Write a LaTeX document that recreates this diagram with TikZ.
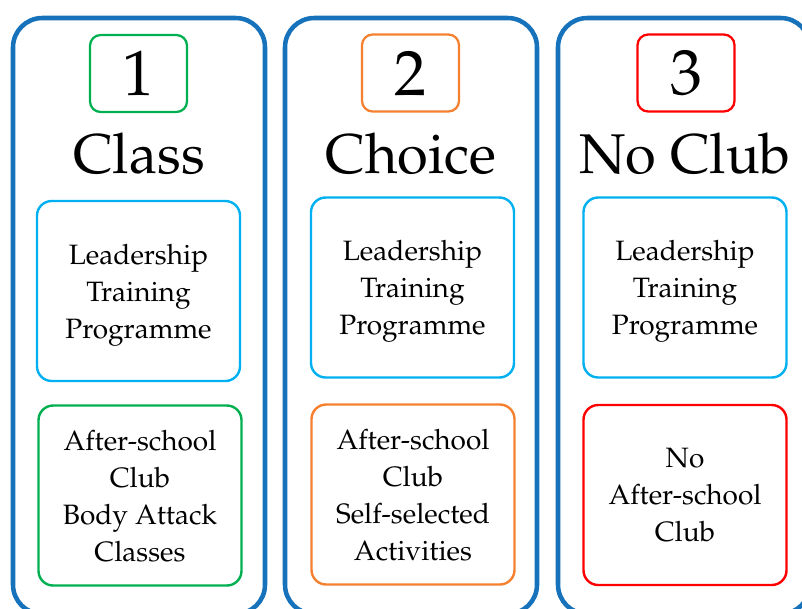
\documentclass[tikz,border=0pt]{standalone}
\usepackage[T1]{fontenc}
\usepackage{palatino}
\usepackage{tikz}

\definecolor{panelblue}{RGB}{22,114,186}
\definecolor{boxgreen}{RGB}{0,176,80}
\definecolor{boxorange}{RGB}{244,128,48}
\definecolor{boxred}{RGB}{255,0,0}
\definecolor{boxcyan}{RGB}{0,176,240}

\begin{document}
\begin{tikzpicture}[x=0.75pt,y=-0.75pt,
        panel/.style={draw=panelblue,line width=3.4pt,rounded corners=22pt,minimum width=189pt,minimum height=447pt},
        numbox/.style={draw=#1,line width=1.7pt,rounded corners=8pt,minimum width=72.75pt,minimum height=57.75pt,font=\fontsize{48}{48}\selectfont},
        title/.style={anchor=base,inner sep=0pt,font=\fontsize{42}{42}\selectfont},
        infobox/.style={draw=#1,line width=1.8pt,rounded corners=11pt,minimum width=152.25pt,minimum height=135pt,align=center,text depth=0pt,font=\fontsize{21}{27.75}\selectfont}]
        \useasboundingbox (0,0) rectangle (802,608);
        \clip (0,0) rectangle (802,608);
        % the three groups
        \node[panel] (classpanel) at (139,316) {};
        \node[panel] (choicepanel) at (411,316) {};
        \node[panel] (nopanel) at (684,316) {};
        % numbers
        \node[numbox=boxgreen] (num1) at (138.5,73.5) {1};
        \node[numbox=boxorange] (num2) at (410.5,73) {2};
        \node[numbox=boxred] (num3) at (686,73) {3};
        \node[title] (class) at (139,173) {Class};
        \node[title] (choice) at (411,173) {Choice};
        \node[title] (noclub) at (685,173) {No Club};
        % leadership boxes
        \node[infobox=boxcyan] (ltp1) at (138.5,291) {Leadership\\Training\\Programme};
        \node[infobox=boxcyan] (ltp2) at (412.5,287.5) {Leadership\\Training\\Programme};
        \node[infobox=boxcyan] (ltp3) at (685,287.5) {Leadership\\Training\\Programme};
        % club boxes
        \node[infobox=boxgreen] (club1) at (140,495.5) {After-school\\Club\\Body Attack\\Classes};
        \node[infobox=boxorange] (club2) at (413,494.5) {After-school\\Club\\Self-selected\\Activities};
        \node[infobox=boxred] (club3) at (685,495) {No\\After-school\\Club};
      \end{tikzpicture}
\end{document}
